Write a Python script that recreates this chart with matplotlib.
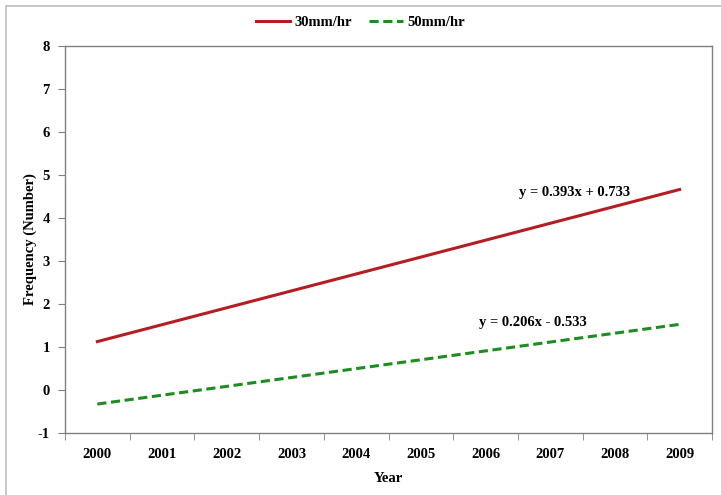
import matplotlib
matplotlib.use('Agg')
import matplotlib.pyplot as plt
from matplotlib.patches import Rectangle

# Trend lines
years = ['2000', '2001', '2002', '2003', '2004', '2005', '2006', '2007', '2008', '2009']
freq_30 = [1.126, 1.519, 1.912, 2.305, 2.698, 3.091, 3.484, 3.877, 4.270, 4.663]
freq_50 = [-0.327, -0.121, 0.085, 0.291, 0.497, 0.703, 0.909, 1.115, 1.321, 1.527]
eq_30 = 'y = 0.393x + 0.733'
eq_50 = 'y = 0.206x - 0.533'

plt.rcParams['font.family'] = ['Liberation Serif', 'DejaVu Serif']
plt.rcParams['font.weight'] = 'bold'
plt.rcParams['axes.unicode_minus'] = False

fs = 10.5
fig = plt.figure(figsize=(7.21, 4.95), dpi=100)
ax = fig.add_axes([65/721, 1-433/495, (712-65)/721, (433-46)/495])

x = list(range(len(years)))
ax.plot(x, freq_30, color='#B41E23', lw=2.2, label='30mm/hr')
ax.plot(x, freq_50, color='#1E8C1E', lw=2.2, ls=(0, (3, 1.5)), label='50mm/hr')

ax.set_xlim(-0.5, len(years) - 0.5)
ax.set_ylim(-1, 8)
ax.set_yticks(range(-1, 9))
ax.set_xticks(x)
ax.set_xticklabels(years)
ax.set_xticks([i - 0.5 for i in range(len(years) + 1)], minor=True)
ax.tick_params(axis='x', which='major', length=0, pad=11, labelsize=fs)
ax.tick_params(axis='x', which='minor', length=5, color='#808080')
ax.tick_params(axis='y', length=5, color='#808080', pad=6, labelsize=fs)
for s in ax.spines.values():
    s.set_color('#808080')
    s.set_linewidth(1.0)

ax.set_xlabel('Year', fontsize=fs, fontweight='bold')
ax.xaxis.set_label_coords(0.5, -(472-433)/387)
ax.set_ylabel('Frequency (Number)', fontsize=fs, fontweight='bold')
ax.yaxis.set_label_coords(-(65-37)/647, 0.5)

ax.text(7.38, 4.6, eq_30, ha='center', va='center', fontsize=fs, fontweight='bold')
ax.text(6.73, 1.58, eq_50, ha='center', va='center', fontsize=fs, fontweight='bold')

fig.legend(loc='center', bbox_to_anchor=(0.5, 1-22/495), ncol=2, frameon=False,
           fontsize=fs, handlelength=2.3, handletextpad=0.3, columnspacing=1.2)

fig.patches.append(Rectangle((6/721, -0.01), 1.02, 1.0 - 6/495 + 0.01,
                             transform=fig.transFigure, fill=False,
                             edgecolor='#BFBFBF', lw=1.2))

fig.savefig('out.png', dpi=100)
